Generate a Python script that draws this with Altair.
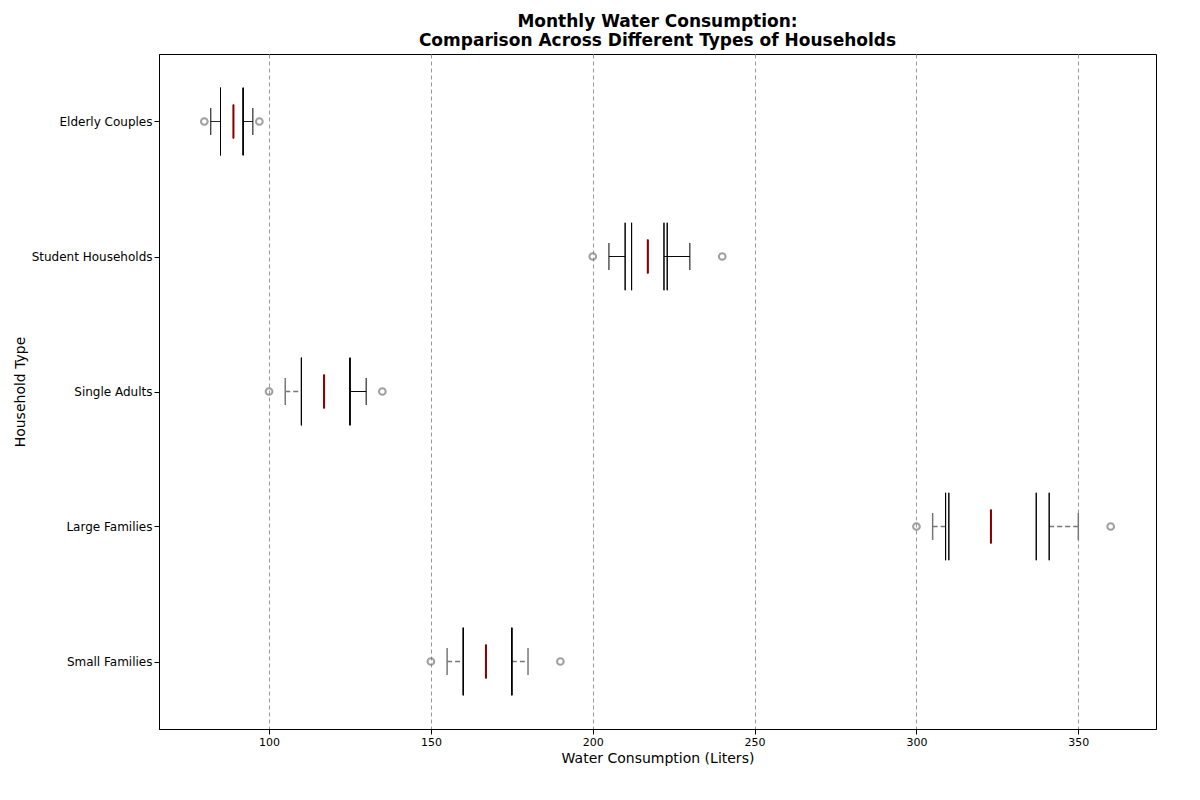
import altair as alt
import pandas as pd

categories = ["Small Families", "Large Families", "Single Adults", "Student Households", "Elderly Couples"]
colors = ["#f08080", "#add8e6", "#90ee90", "#dda0dd", "#f0e68c"]
whisk_lo = [155, 305, 105, 205, 82]
q1 = [160, 310, 110, 210, 85]
notch_lo = [160, 309, 110, 212, 85]
median = [167, 323, 117, 217, 89]
notch_hi = [175, 337, 125, 223, 92]
q3 = [175, 341, 125, 222, 92]
whisk_hi = [180, 350, 130, 230, 95]
flier_lo = [150, 300, 100, 200, 80]
flier_hi = [190, 360, 135, 240, 97]
# whisker styles (left, right): True = dashed grey
dashed_lo = [True, True, True, False, False]
dashed_hi = [True, True, False, False, False]

box_rows, whisk_rows, cap_rows, flier_rows, med_rows = [], [], [], [], []
for i, c in enumerate(categories):
    pts = sorted([(q1[i], 0.25), (notch_lo[i], 0.25), (median[i], 0.125),
                  (notch_hi[i], 0.25), (q3[i], 0.25)])
    for k, (x, hw) in enumerate(pts):
        box_rows.append({"cat": c, "k": k, "x": x, "y": i + hw, "y2": i - hw})
    for a, b, d in [(whisk_lo[i], q1[i], dashed_lo[i]), (q3[i], whisk_hi[i], dashed_hi[i])]:
        whisk_rows.append({"cat": c, "x": a, "x2": b, "y": i, "d": d})
    for x, d in [(whisk_lo[i], dashed_lo[i]), (whisk_hi[i], dashed_hi[i])]:
        cap_rows.append({"x": x, "y": i - 0.1, "y2": i + 0.1, "d": d})
    for x in [flier_lo[i], flier_hi[i]]:
        flier_rows.append({"x": x, "y": i})
    med_rows.append({"x": median[i], "y": i - 0.125, "y2": i + 0.125})

xs = alt.Scale(domain=[66, 374], nice=False, zero=False)
ys = alt.Scale(domain=[-0.5, 4.5], nice=False, zero=False)
label_expr = "[" + ",".join(f"'{c}'" for c in categories) + "][datum.value]"

xenc = alt.X("x:Q", scale=xs, title="Water Consumption (Liters)",
             axis=alt.Axis(values=[100, 150, 200, 250, 300, 350], grid=True,
                           gridDash=[4, 3], gridColor="#999999", titleFontSize=14,
                           titleFontWeight="normal", labelFontSize=11))
yenc = alt.Y("y:Q", scale=ys, title="Household Type",
             axis=alt.Axis(values=[0, 1, 2, 3, 4], labelExpr=label_expr, grid=False,
                           titleFontSize=14, titleFontWeight="normal", labelFontSize=12))

whisk = alt.Chart(pd.DataFrame(whisk_rows)).mark_rule().encode(
    x=xenc, x2="x2:Q", y=yenc,
    color=alt.condition("datum.d", alt.value("#777777"), alt.value("black")),
    strokeDash=alt.condition("datum.d", alt.value([5, 3]), alt.value([1, 0])),
    strokeWidth=alt.condition("datum.d", alt.value(1.5), alt.value(1)))

caps = alt.Chart(pd.DataFrame(cap_rows)).mark_rule().encode(
    x="x:Q", y="y:Q", y2="y2:Q",
    color=alt.condition("datum.d", alt.value("#777777"), alt.value("black")),
    strokeWidth=alt.condition("datum.d", alt.value(1.5), alt.value(1)))

boxes = alt.Chart(pd.DataFrame(box_rows)).mark_area(
    orient="vertical", stroke="black", strokeWidth=1, opacity=1).encode(
    x="x:Q", y="y:Q", y2="y2:Q", detail="cat:N", order="k:Q",
    color=alt.Color("cat:N", scale=alt.Scale(domain=categories, range=colors), legend=None))

meds = alt.Chart(pd.DataFrame(med_rows)).mark_rule(color="#8b0000", strokeWidth=2).encode(
    x="x:Q", y="y:Q", y2="y2:Q")

fliers = alt.Chart(pd.DataFrame(flier_rows)).mark_point(shape="circle", filled=False, color="#777777", size=45).encode(
    x="x:Q", y="y:Q")

chart = (whisk + caps + boxes + meds + fliers).properties(
    width=997, height=675,
    title=alt.Title(["Monthly Water Consumption:", "Comparison Across Different Types of Households"],
                    fontSize=17, fontWeight="bold", anchor="middle", font="DejaVu Sans"),
).configure_view(stroke="black").configure_axis(
    domainColor="black", tickColor="black", labelColor="black",
    labelFont="DejaVu Sans", titleFont="DejaVu Sans")

chart.save("out.html", embed_options={"renderer": "svg", "actions": False})
